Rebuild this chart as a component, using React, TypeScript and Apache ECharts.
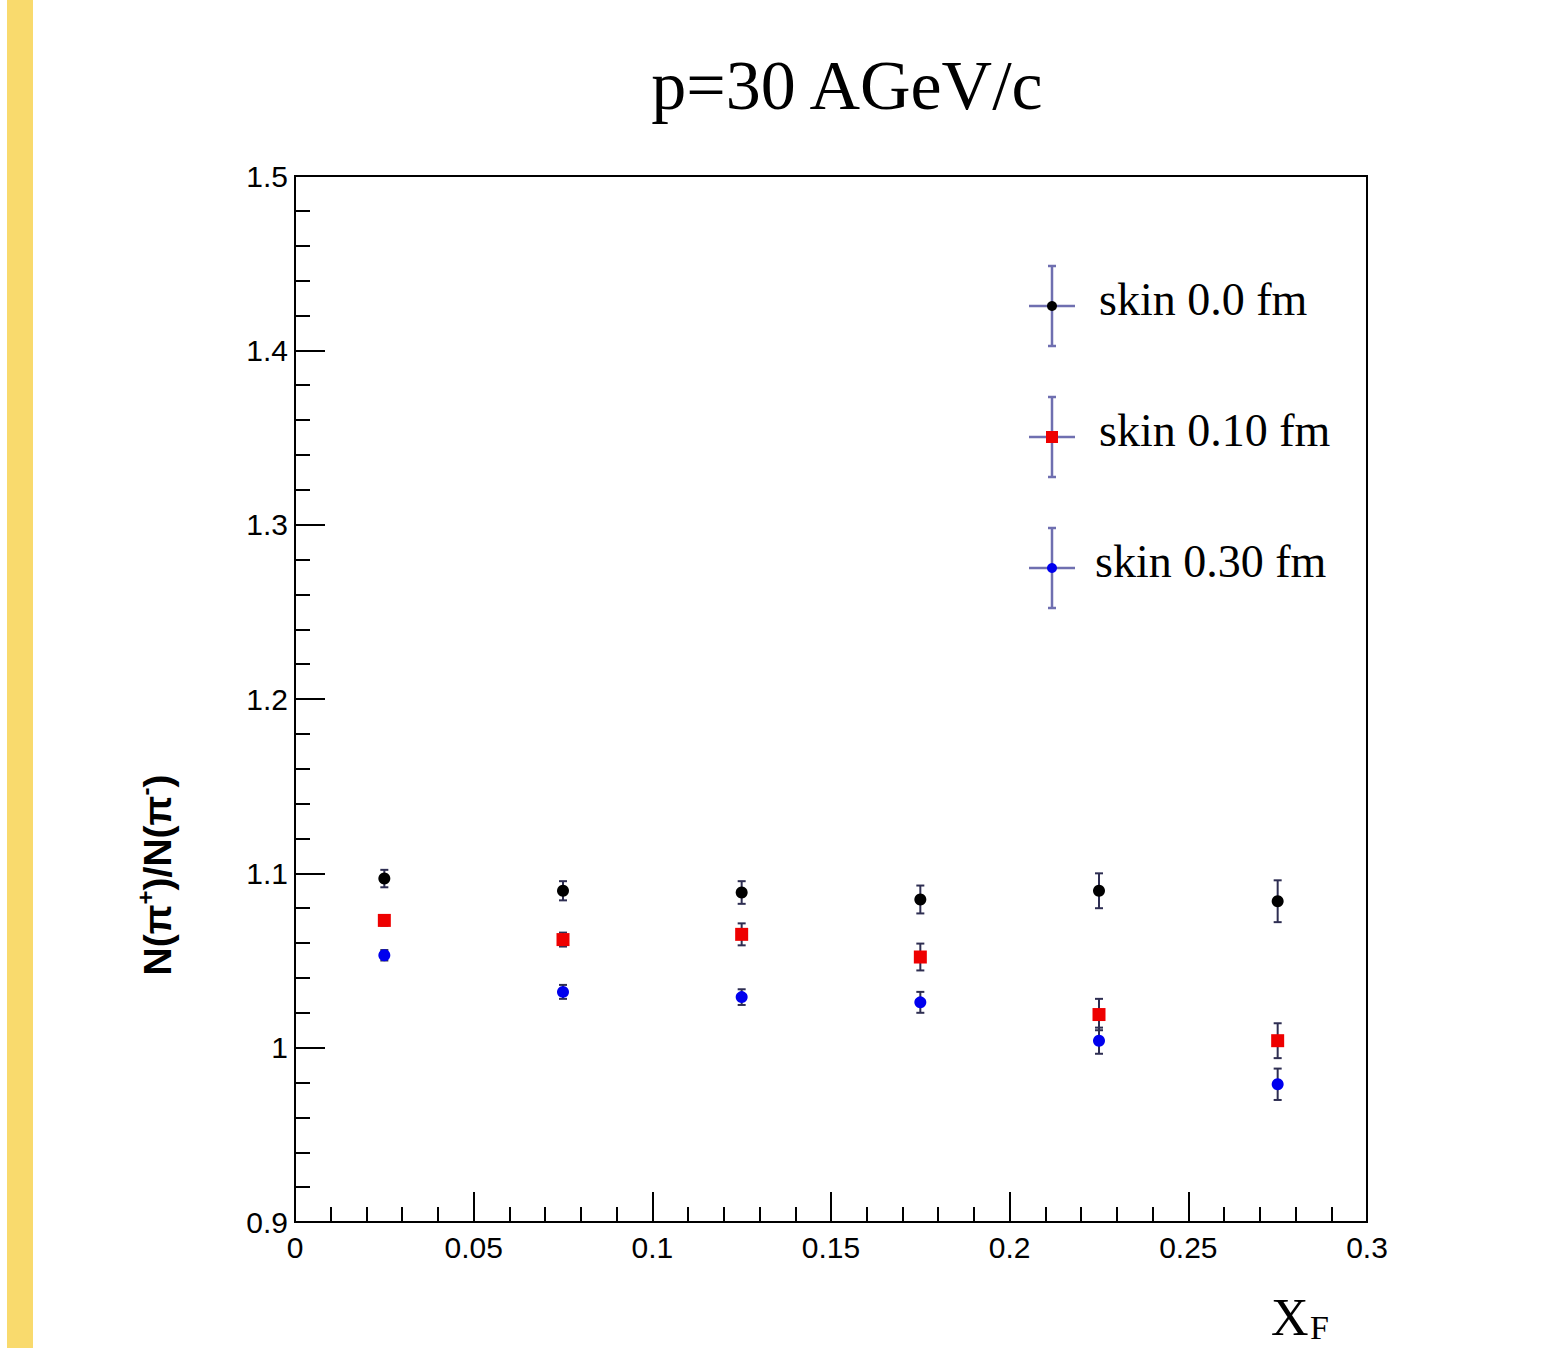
import React, { useEffect, useRef } from "react";
import * as echarts from "echarts";

const xValues = [0.025, 0.075, 0.125, 0.175, 0.225, 0.275];
const skin00 = [1.097, 1.09, 1.089, 1.085, 1.09, 1.084];
const skin00Err = [0.005, 0.0055, 0.0065, 0.008, 0.01, 0.012];
const skin10 = [1.073, 1.062, 1.065, 1.052, 1.019, 1.004];
const skin10Err = [0.003, 0.004, 0.0063, 0.0077, 0.009, 0.01];
const skin30 = [1.053, 1.032, 1.029, 1.026, 1.004, 0.979];
const skin30Err = [0.003, 0.004, 0.0045, 0.006, 0.0075, 0.009];
const seriesNames = ["skin 0.0 fm", "skin 0.10 fm", "skin 0.30 fm"];
const chartTitle = "p=30 AGeV/c";

const ERR_COLOR = "#2e2e52";
const LEG_COLOR = "#6f6fb0";

export default function App() {
  const ref = useRef<HTMLDivElement>(null);
  useEffect(() => {
    if (!ref.current) return;
    const chart = echarts.init(ref.current, undefined, { renderer: "svg" });
    const sets = [
      { name: seriesNames[0], vals: skin00, errs: skin00Err, color: "#000000", symbol: "circle", size: 12 },
      { name: seriesNames[1], vals: skin10, errs: skin10Err, color: "#ee0000", symbol: "rect", size: 13 },
      { name: seriesNames[2], vals: skin30, errs: skin30Err, color: "#0000ee", symbol: "circle", size: 12 },
    ];
    const series: any[] = [];
    sets.forEach((s) => {
      series.push({
        type: "custom",
        name: s.name + " err",
        data: xValues.map((x, i) => [x, s.vals[i], s.errs[i]]),
        encode: { x: 0, y: 1 },
        z: 2,
        renderItem: (params: any, api: any) => {
          const x = api.value(0);
          const y = api.value(1);
          const e = api.value(2);
          const t = api.coord([x, y + e]);
          const b = api.coord([x, y - e]);
          const cap = 4;
          const st = { stroke: ERR_COLOR, lineWidth: 2 };
          return {
            type: "group",
            children: [
              { type: "line", shape: { x1: t[0], y1: t[1], x2: b[0], y2: b[1] }, style: st },
              { type: "line", shape: { x1: t[0] - cap, y1: t[1], x2: t[0] + cap, y2: t[1] }, style: st },
              { type: "line", shape: { x1: b[0] - cap, y1: b[1], x2: b[0] + cap, y2: b[1] }, style: st },
            ],
          };
        },
      });
      series.push({
        type: "scatter",
        name: s.name,
        data: xValues.map((x, i) => [x, s.vals[i]]),
        symbol: s.symbol,
        symbolSize: s.size,
        itemStyle: { color: s.color, opacity: 1 },
        z: 3,
      });
    });

    const legendY = [306, 437, 568];
    const legendTextX = [1099, 1099, 1095];
    const legendGraphics: any[] = [];
    sets.forEach((s, i) => {
      const cy = legendY[i];
      const cx = 1052;
      const st = { stroke: LEG_COLOR, lineWidth: 2.5 };
      legendGraphics.push(
        { type: "line", shape: { x1: cx, y1: cy - 40, x2: cx, y2: cy + 40 }, style: st },
        { type: "line", shape: { x1: cx - 4, y1: cy - 40, x2: cx + 4, y2: cy - 40 }, style: st },
        { type: "line", shape: { x1: cx - 4, y1: cy + 40, x2: cx + 4, y2: cy + 40 }, style: st },
        { type: "line", shape: { x1: cx - 23, y1: cy, x2: cx + 23, y2: cy }, style: st },
        s.symbol === "rect"
          ? { type: "rect", shape: { x: cx - 6, y: cy - 6, width: 12, height: 12 }, style: { fill: s.color } }
          : { type: "circle", shape: { cx, cy, r: 5 }, style: { fill: s.color } },
        {
          type: "text",
          x: legendTextX[i],
          y: cy - 7,
          style: {
            text: s.name,
            font: "46px 'Liberation Serif'",
            fill: "#000",
            textAlign: "left",
            textVerticalAlign: "middle",
          },
        }
      );
    });

    chart.setOption({
      animation: false,
      backgroundColor: "#ffffff",
      grid: {
        left: 295,
        right: 190,
        top: 176,
        bottom: 126,
        show: true,
        borderColor: "#000",
        borderWidth: 2,
        backgroundColor: "transparent",
      },
      xAxis: {
        type: "value",
        min: 0,
        max: 0.3,
        interval: 0.05,
        axisLine: { lineStyle: { color: "#000", width: 2 } },
        axisTick: { show: true, inside: true, length: 30, lineStyle: { color: "#000", width: 2 } },
        minorTick: { show: true, splitNumber: 5, length: 15, lineStyle: { color: "#000", width: 2 } },
        splitLine: { show: false },
        minorSplitLine: { show: false },
        axisLabel: { color: "#000", fontSize: 30, fontFamily: "Liberation Sans", margin: 10 },
      },
      yAxis: {
        type: "value",
        min: 0.9,
        max: 1.5,
        interval: 0.1,
        axisLine: { show: true, lineStyle: { color: "#000", width: 2 } },
        axisTick: { show: true, inside: true, length: 30, lineStyle: { color: "#000", width: 2 } },
        minorTick: { show: true, splitNumber: 5, length: 15, lineStyle: { color: "#000", width: 2 } },
        splitLine: { show: false },
        minorSplitLine: { show: false },
        axisLabel: { color: "#000", fontSize: 30, fontFamily: "Liberation Sans", margin: 7 },
      },
      graphic: [
        { type: "rect", shape: { x: 7, y: 0, width: 26, height: 1348 }, style: { fill: "#F9DA6D" } },
        {
          type: "text",
          x: 847,
          y: 85,
          style: {
            text: chartTitle,
            font: "70px 'Liberation Serif'",
            fill: "#000",
            textAlign: "center",
            textVerticalAlign: "middle",
          },
        },
        {
          type: "text",
          x: 155,
          y: 875,
          rotation: Math.PI / 2,
          style: {
            text: "{b|N(π}{s|+}{b|)/N(π}{s|-}{b|)}",
            textAlign: "center",
            textVerticalAlign: "middle",
            rich: {
              b: { fontSize: 39, fontWeight: "bold", fontFamily: "Liberation Sans", fill: "#000", lineHeight: 44, verticalAlign: "bottom" },
              s: { fontSize: 24, fontWeight: "bold", fontFamily: "Liberation Sans", fill: "#000", lineHeight: 24, verticalAlign: "top" },
            },
          },
        },
        {
          type: "text",
          x: 1271,
          y: 1317,
          style: { text: "X", font: "52px 'Liberation Serif'", fill: "#000", textAlign: "left", textVerticalAlign: "middle" },
        },
        {
          type: "text",
          x: 1310,
          y: 1327,
          style: { text: "F", font: "34px 'Liberation Serif'", fill: "#000", textAlign: "left", textVerticalAlign: "middle" },
        },
        ...legendGraphics,
      ],
      series,
    });
    return () => chart.dispose();
  }, []);
  return (
    <div
      ref={ref}
      style={{ position: "fixed", left: 0, top: 0, width: 1557, height: 1348, background: "#fff" }}
    />
  );
}
